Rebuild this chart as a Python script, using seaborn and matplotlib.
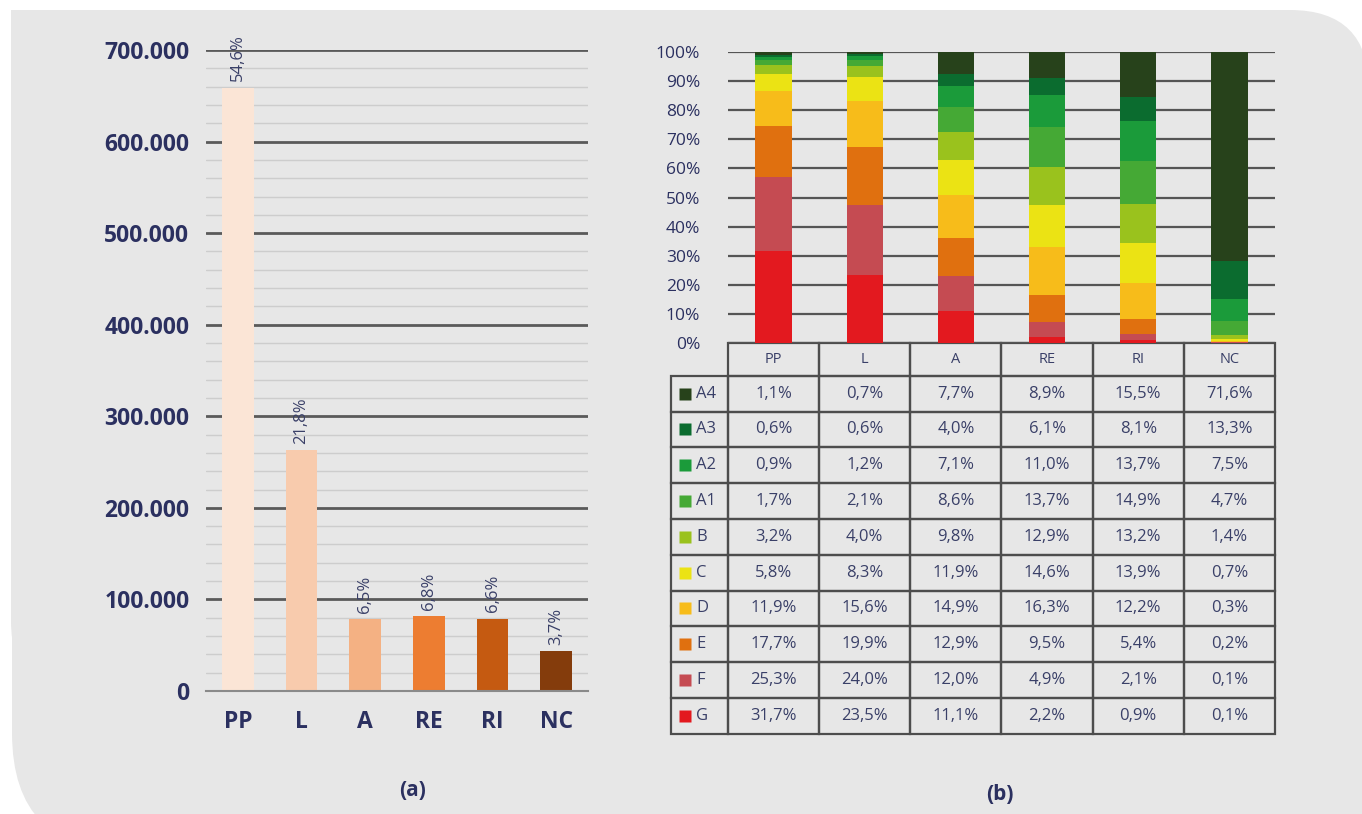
import numpy as np
import pandas as pd
import matplotlib.pyplot as plt
import seaborn as sns
from matplotlib.patches import FancyBboxPatch, Rectangle

# ---- data ----
categories = ["PP", "L", "A", "RE", "RI", "NC"]
counts = [659000, 263000, 78500, 82000, 79000, 43500]
shares = ["54,6%", "21,8%", "6,5%", "6,8%", "6,6%", "3,7%"]
bar_colors = ["#fbe5d6", "#f8cbad", "#f4b183", "#ed7d31", "#c55a11", "#843c0c"]

classes = ["A4", "A3", "A2", "A1", "B", "C", "D", "E", "F", "G"]
class_colors = ["#27421b", "#0b6c2f", "#1b9b3a", "#45a935", "#9ac21d",
                "#ebe314", "#f7bc1a", "#e0700f", "#c54b52", "#e3191f"]
pct_A4 = [1.1, 0.7, 7.7, 8.9, 15.5, 71.6]
pct_A3 = [0.6, 0.6, 4.0, 6.1, 8.1, 13.3]
pct_A2 = [0.9, 1.2, 7.1, 11.0, 13.7, 7.5]
pct_A1 = [1.7, 2.1, 8.6, 13.7, 14.9, 4.7]
pct_B = [3.2, 4.0, 9.8, 12.9, 13.2, 1.4]
pct_C = [5.8, 8.3, 11.9, 14.6, 13.9, 0.7]
pct_D = [11.9, 15.6, 14.9, 16.3, 12.2, 0.3]
pct_E = [17.7, 19.9, 12.9, 9.5, 5.4, 0.2]
pct_F = [25.3, 24.0, 12.0, 4.9, 2.1, 0.1]
pct_G = [31.7, 23.5, 11.1, 2.2, 0.9, 0.1]
pct_rows = [pct_A4, pct_A3, pct_A2, pct_A1, pct_B, pct_C, pct_D, pct_E, pct_F, pct_G]

navy = "#2b3060"
text_col = "#3a4068"
bg = "#e7e7e7"

sns.set_style("white")
plt.rcParams['font.family'] = ['Open Sans', 'DejaVu Sans']

W, H = 1362, 814
fig = plt.figure(figsize=(W / 100, H / 100), dpi=100)
fig.patch.set_facecolor("white")

# grey panel: rounded top-right and bottom-left corners
axbg = fig.add_axes([0, 0, 1, 1], zorder=-5)
axbg.set_xlim(0, W)
axbg.set_ylim(H, 0)
axbg.axis("off")
axbg.add_patch(FancyBboxPatch((11, 10), 1358, 690,
                              boxstyle="round,pad=0,rounding_size=79", fc=bg, ec="none"))
axbg.add_patch(FancyBboxPatch((12, 300), 1500, 552,
                              boxstyle="round,pad=0,rounding_size=119", fc=bg, ec="none"))
axbg.add_patch(Rectangle((11, 10), 200, 200, fc=bg, ec="none"))

# ---- (a) bar chart ----
ax1 = fig.add_axes([206 / W, 1 - 691 / H, 382 / W, 641 / H])
ax1.set_facecolor("none")
sns.barplot(x=categories, y=counts, hue=categories, palette=bar_colors,
            legend=False, width=0.5, saturation=1, linewidth=0, ax=ax1, zorder=3)
ax1.set_ylim(0, 700000)
ax1.set_xlim(-0.5, len(categories) - 0.5)
ax1.set_yticks(np.arange(0, 700001, 100000))
ax1.set_yticks(np.arange(0, 700001, 20000), minor=True)
ax1.set_yticklabels([f"{v:,.0f}".replace(",", ".") for v in np.arange(0, 700001, 100000)])
ax1.grid(axis="y", which="minor", color="#cdcdcd", lw=1.0, zorder=0)
ax1.grid(axis="y", which="major", color="#5a5a5a", lw=2.0, zorder=1)
ax1.set_axisbelow(True)
for s in ["top", "right", "left"]:
    ax1.spines[s].set_visible(False)
ax1.spines["bottom"].set_color("#8a8a8a")
ax1.spines["bottom"].set_linewidth(1.5)
ax1.spines["bottom"].set_zorder(4)
ax1.set_xticks(np.arange(-0.5, len(categories), 1.0), minor=True)
ax1.tick_params(axis="x", which="minor", length=6, width=1.2, color="#8a8a8a", direction="out")
ax1.tick_params(axis="x", which="major", length=0, pad=14)
ax1.tick_params(axis="y", which="both", length=0, pad=12)
for lab in ax1.get_yticklabels() + ax1.get_xticklabels():
    lab.set_fontweight("bold")
    lab.set_fontsize(16.5)
    lab.set_color(navy)
ax1.set_xlabel("")
ax1.set_ylabel("")
for i, (c, s) in enumerate(zip(counts, shares)):
    ax1.text(i, c + 7000, s, rotation=90, ha="center", va="bottom",
             fontsize=12, color=text_col, zorder=5)

fig.text(413 / W, 1 - 791 / H, "(a)", ha="center", va="center",
         fontsize=15, fontweight="bold", color=navy)
fig.text(1000 / W, 1 - 795 / H, "(b)", ha="center", va="center",
         fontsize=15, fontweight="bold", color=navy)

# ---- (b) stacked bars ----
ax2 = fig.add_axes([728 / W, 1 - 343 / H, 547 / W, 291 / H])
ax2.set_facecolor("none")
stack = np.cumsum(np.array(pct_rows[::-1]), axis=0)[::-1]  # top-down cumulative
for cum, col in zip(stack, class_colors):
    sns.barplot(x=categories, y=cum, color=col, width=0.4, saturation=1,
                linewidth=0, ax=ax2, zorder=3)
ax2.set_ylim(0, 100)
ax2.set_xlim(-0.5, len(categories) - 0.5)
ax2.set_yticks(np.arange(0, 101, 10))
ax2.set_yticklabels([f"{v}%" for v in range(0, 101, 10)])
ax2.grid(axis="y", color="#555555", lw=1.6, zorder=0)
ax2.set_axisbelow(True)
sns.despine(ax=ax2, left=True, bottom=True)
ax2.set_xticks([])
ax2.tick_params(axis="y", length=0, pad=20, labelsize=12.5, labelcolor=navy)
ax2.set_xlabel("")
ax2.set_ylabel("")

# table under the stacked bars; first column holds the class keys
def fmt(v):
    return f"{v:.1f}".replace(".", ",") + "%"

col_w = 1 / len(categories)
lab_w = 57 / 547
head_h = 32.7 / 291
row_h = 35.8 / 291
tab_h = head_h + row_h * len(classes)
cell_text = [[""] + [fmt(v) for v in row] for row in pct_rows]
tab = ax2.table(cellText=cell_text, colLabels=[""] + categories,
                colWidths=[lab_w] + [col_w] * len(categories),
                cellLoc="center", bbox=[-lab_w, -tab_h, 1 + lab_w, tab_h])
tab.auto_set_font_size(False)
tab.set_fontsize(12)
for (r, c), cell in tab.get_celld().items():
    cell.set_edgecolor("#4d4d4d")
    cell.set_linewidth(1.6)
    cell.set_facecolor("none")
    cell.set_height(head_h if r == 0 else row_h)
    cell.get_text().set_color(text_col)
    if r == 0:
        cell.get_text().set_fontsize(10.5)
tab[(0, 0)].visible_edges = "open"

fig.canvas.draw()
for i, (name, col) in enumerate(zip(classes, class_colors)):
    cell = tab[(i + 1, 0)]
    x0, y0, w, h = cell.get_x(), cell.get_y(), cell.get_width(), cell.get_height()
    ax2.plot([x0 + w * 0.245], [y0 + h / 2], marker="s", ms=8.5, color=col, mec="none",
             transform=ax2.transAxes, clip_on=False)
    ax2.text(x0 + w * 0.44, y0 + h / 2, name, transform=ax2.transAxes,
             ha="left", va="center", fontsize=12, color=text_col)

fig.savefig("out.png", dpi=100, facecolor=fig.get_facecolor())
